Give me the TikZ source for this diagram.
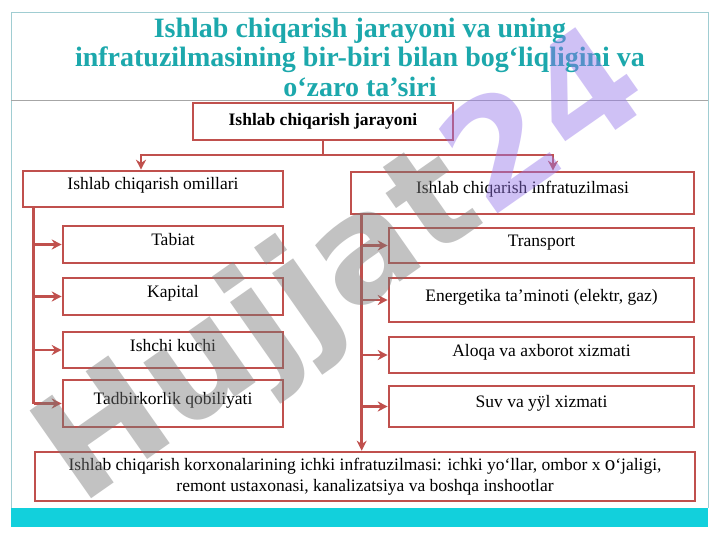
\documentclass[tikz,border=0pt]{standalone}
\usepackage{fontspec}
\setmainfont{Liberation Serif}
\newfontfamily\wmfont{DejaVu Sans}
\usepackage{xcolor}
\usetikzlibrary{arrows.meta, positioning, calc}

\definecolor{boxred}{RGB}{192,80,77}
\definecolor{titleteal}{RGB}{28,168,172}
\definecolor{bandteal}{RGB}{18,208,220}
\definecolor{framegray}{RGB}{160,205,210}
\definecolor{wmgray}{RGB}{120,120,120}
\definecolor{wmpurple}{RGB}{150,118,235}

\begin{document}
\begin{tikzpicture}[x=1pt, y=-1pt,
  box/.style={draw=boxred, line width=2.6pt, inner sep=0pt, font=\fontsize{17.5}{21}\selectfont, text height=12pt, text depth=10pt},
  conn/.style={draw=boxred, line width=2.6pt},
  arr/.style={conn, -{Stealth[length=10pt, width=10pt]}}]
\useasboundingbox (0,0) rectangle (720,540);
\fill[white] (0,0) rectangle (720,540);

% slide frame and title
\fill[bandteal] (11,508) rectangle (708,527);
\draw[framegray, line width=0.8pt] (11,508) -- (11,12) -- (708,12) -- (708,508);
\draw[gray!70, line width=0.6pt] (11,100) -- (708,100);
\node[font=\fontsize{28}{29.5}\selectfont\bfseries, text=titleteal, align=center] (title) at (360,57)
  {Ishlab chiqarish jarayoni va uning\\infratuzilmasining bir-biri bilan bog‘liqligini va\\o‘zaro ta’siri};

% top box and two branches
\node[box, minimum width=260, minimum height=37, font=\fontsize{17.5}{21}\selectfont\bfseries, text height=, text depth=] (jarayon) at (323,121.5) {Ishlab chiqarish jarayoni};
\node[box, minimum width=260, minimum height=36] (omil) at (153,189) {Ishlab chiqarish omillari};
\node[box, minimum width=343, minimum height=42] (infra) at (522.5,193) {Ishlab chiqarish infratuzilmasi};

% left column
\node[box, minimum width=220, minimum height=37] (tabiat) at (173,244.5) {Tabiat};
\node[box, minimum width=220, minimum height=37] (kapital) at (173,296.5) {Kapital};
\node[box, minimum width=220, minimum height=36] (ishchi) at (173,350) {Ishchi kuchi};
\node[box, minimum width=220, minimum height=47] (tadbir) at (173,403.5) {Tadbirkorlik qobiliyati};

% right column
\node[box, minimum width=305, minimum height=35] (transport) at (541.5,245.5) {Transport};
\node[box, minimum width=305, minimum height=44] (energiya) at (541.5,300) {Energetika ta'minoti (elektr, gaz)};
\node[box, minimum width=305, minimum height=36] (aloqa) at (541.5,355) {Aloqa va axborot xizmati};
\node[box, minimum width=305, minimum height=41] (suv) at (541.5,406.5) {Suv va yÿl xizmati};

% bottom box
\node[box, minimum width=660, minimum height=49, align=center, text height=, text depth=] (korxona) at (365,476.5)
  {Ishlab chiqarish korxonalarining ichki infratuzilmasi: ichki yo‘llar, ombor x {\fontsize{21}{21}\selectfont o}‘jaligi,\\remont ustaxonasi, kanalizatsiya va boshqa inshootlar};

% connectors
\coordinate (bus) at (jarayon.south |- 0,155);
\draw[conn] (jarayon.south) -- (bus);
\draw[arr] (bus) -| ([xshift=-12pt]omil.north);
\draw[arr] (bus) -| ([xshift=30.5pt]infra.north);

\coordinate (lspine) at ([xshift=12pt]omil.south west);
\draw[conn] (lspine) -- (lspine |- tadbir.west);
\foreach \n in {tabiat,kapital,ishchi,tadbir}
  \draw[arr] (lspine |- \n.west) -- (\n.west);

\coordinate (rspine) at ([xshift=12pt]infra.south west);
\draw[arr] (rspine) -- (rspine |- korxona.north);
\foreach \n in {transport,energiya,aloqa,suv}
  \draw[arr] (rspine |- \n.west) -- (\n.west);

% watermark
\node[rotate=35, opacity=0.45, font=\wmfont\fontsize{147}{147}\selectfont\bfseries] (wm) at (345,272)
  {\textcolor{wmgray}{Hujjat}\textcolor{wmpurple}{24}};
\end{tikzpicture}
\end{document}
